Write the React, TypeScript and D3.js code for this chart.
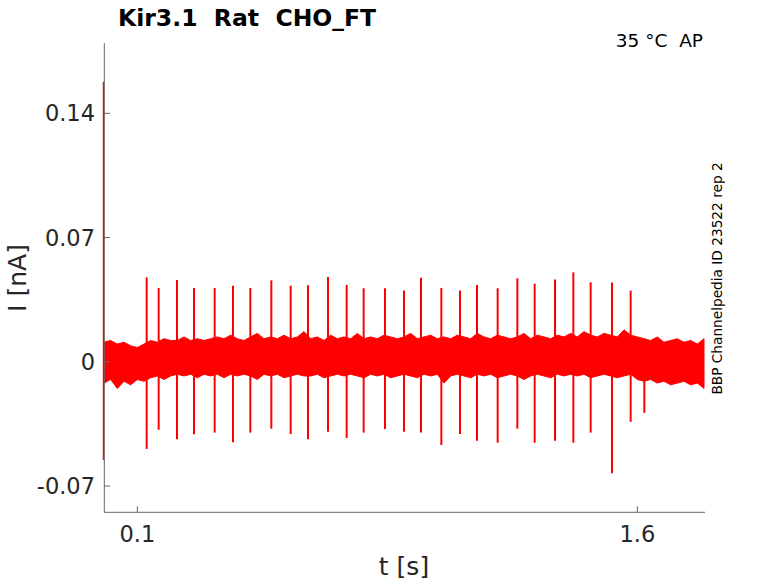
import * as d3 from 'd3';

// Current trace, read from the recording (nA vs s)
const TRANSIENT = { t: 0, hi: 0.1577, lo: -0.0553 };

const spikeTimes = [
    0.128, 0.164, 0.219, 0.270, 0.332, 0.387, 0.439, 0.502, 0.560, 0.612,
    0.672, 0.728, 0.779, 0.843, 0.900, 0.951, 1.012, 1.068, 1.119, 1.181,
    1.240, 1.292, 1.353, 1.408, 1.460, 1.524, 1.580, 1.621,
];
const spikeHi = [
    0.0476, 0.0416, 0.0461, 0.0416, 0.0416, 0.0429, 0.0416, 0.0459, 0.0429, 0.0431,
    0.0478, 0.0433, 0.0414, 0.0414, 0.0401, 0.0474, 0.0416, 0.0401, 0.0433, 0.0414,
    0.0470, 0.0440, 0.0463, 0.0504, 0.0448, 0.0446, 0.0401, 0.0120,
];
const spikeLo = [
    -0.0491, -0.0383, -0.0437, -0.0408, -0.0399, -0.0454, -0.0399, -0.0377, -0.0407, -0.0437,
    -0.0394, -0.0429, -0.0399, -0.0379, -0.0394, -0.0399, -0.0469, -0.0407, -0.0445, -0.0456,
    -0.0377, -0.0456, -0.0445, -0.0456, -0.0399, -0.0628, -0.0338, -0.0287,
];

// Noise envelope, one pair every 0.02 s from 0 to 1.8 s
const noiseStep = 0.02;
const noiseHi = [
    0.011, 0.012, 0.010, 0.011, 0.009, 0.008,
    0.010, 0.012, 0.011, 0.013, 0.012,
    0.012, 0.014, 0.012, 0.013, 0.012,
    0.013, 0.014, 0.013, 0.015, 0.013,
    0.012, 0.014, 0.016, 0.013, 0.014,
    0.013, 0.015, 0.013, 0.014, 0.017,
    0.013, 0.014, 0.012, 0.015, 0.013,
    0.014, 0.013, 0.016, 0.013, 0.014,
    0.013, 0.015, 0.014, 0.013, 0.014,
    0.016, 0.013, 0.014, 0.015, 0.013,
    0.014, 0.013, 0.015, 0.014, 0.013,
    0.016, 0.014, 0.013, 0.015, 0.014,
    0.013, 0.014, 0.016, 0.013, 0.015,
    0.014, 0.013, 0.015, 0.014, 0.016,
    0.014, 0.017, 0.015, 0.014, 0.016,
    0.015, 0.014, 0.018, 0.015, 0.014,
    0.013, 0.012, 0.014, 0.011, 0.012,
    0.013, 0.011, 0.012, 0.010, 0.013,
];
const noiseLo = [
    -0.012, -0.010, -0.015, -0.011, -0.013, -0.010,
    -0.011, -0.009, -0.008, -0.010, -0.008,
    -0.007, -0.008, -0.007, -0.009, -0.007,
    -0.008, -0.007, -0.009, -0.007, -0.008,
    -0.007, -0.008, -0.010, -0.007, -0.008,
    -0.007, -0.009, -0.008, -0.007, -0.008,
    -0.008, -0.007, -0.009, -0.008, -0.007,
    -0.008, -0.007, -0.008, -0.009, -0.007,
    -0.008, -0.007, -0.009, -0.008, -0.007,
    -0.008, -0.009, -0.007, -0.008, -0.007,
    -0.012, -0.008, -0.007, -0.008, -0.009,
    -0.007, -0.008, -0.007, -0.009, -0.008,
    -0.007, -0.008, -0.010, -0.008, -0.007,
    -0.008, -0.009, -0.007, -0.008, -0.007,
    -0.008, -0.007, -0.009, -0.008, -0.007,
    -0.008, -0.009, -0.008, -0.007, -0.010,
    -0.011, -0.010, -0.012, -0.011, -0.013,
    -0.012, -0.011, -0.013, -0.012, -0.015,
];

const xTicks = [0.1, 1.6];
const yTicks = [-0.07, 0, 0.07, 0.14];

const TITLE = 'Kir3.1  Rat  CHO_FT';
const CONDITION = '35 °C  AP';
const SOURCE = 'BBP Channelpedia ID 23522 rep 2';

const W = 778;
const H = 583;
const RED = '#ff0000';
const AXIS = '#666666';
const TEXT = '#262626';
const FONT = '"DejaVu Sans", sans-serif';

export default function App() {
    const left = 104;
    const right = 705;
    const top = 43;
    const bottom = 512.3;

    const x = d3.scaleLinear().domain([0, 1.8]).range([104, 704]);
    const y = d3.scaleLinear().domain([-0.0848, 0.1796]).range([bottom, top]);

    const noise = noiseHi.map((h, i) => ({ t: i * noiseStep, hi: h, lo: noiseLo[i] }));
    const area = d3.area<{ t: number; hi: number; lo: number }>()
        .x(d => x(d.t))
        .y0(d => y(d.lo))
        .y1(d => y(d.hi));

    const fmt = (v: number) => (v === 0 ? '0' : String(v));

    return (
        <svg width={W} height={H} viewBox={`0 0 ${W} ${H}`}
            style={{ position: 'absolute', left: 0, top: 0, background: '#fff' }}
            fontFamily={FONT}>
            {/* noise band */}
            <path d={area(noise) || ''} fill={RED} stroke={RED} strokeWidth={1} strokeLinejoin="round" />

            {/* spikes */}
            {spikeTimes.map((t, i) => (
                <line key={i} x1={x(t)} x2={x(t)} y1={y(spikeHi[i])} y2={y(spikeLo[i])}
                    stroke={RED} strokeWidth={2} />
            ))}

            {/* onset transient */}
            <line x1={x(TRANSIENT.t) - 0.5} x2={x(TRANSIENT.t) - 0.5}
                y1={y(TRANSIENT.hi)} y2={y(TRANSIENT.lo)} stroke={RED} strokeWidth={1.5} />

            {/* axes */}
            <g stroke={AXIS} strokeWidth={1} fill="none">
                <line x1={left + 0.3} x2={left + 0.3} y1={top} y2={bottom} />
                <line x1={left} x2={right} y1={bottom} y2={bottom} />
                {yTicks.map(v => (
                    <line key={v} x1={left} x2={left + 6} y1={y(v)} y2={y(v)} />
                ))}
                {xTicks.map(v => (
                    <line key={v} x1={x(v)} x2={x(v)} y1={bottom} y2={bottom - 6} />
                ))}
            </g>

            <g fill={TEXT} fontSize={22.5}>
                {yTicks.map(v => (
                    <text key={v} x={95} y={y(v)} textAnchor="end" dominantBaseline="central">{fmt(v)}</text>
                ))}
                {xTicks.map(v => (
                    <text key={v} x={x(v)} y={542} textAnchor="middle">{fmt(v)}</text>
                ))}
            </g>

            <text x={404} y={575} textAnchor="middle" fontSize={25} fill={TEXT}>t [s]</text>
            <text transform="translate(26, 278) rotate(-90)" textAnchor="middle" fontSize={25} fill={TEXT}>I [nA]</text>

            <text x={118} y={26} fontSize={23.5} fontWeight="bold" fill="#000" style={{ whiteSpace: 'pre' }}>{TITLE}</text>
            <text x={703} y={47} textAnchor="end" fontSize={18.5} fill="#000" style={{ whiteSpace: 'pre' }}>{CONDITION}</text>
            <text transform="translate(722, 278.5) rotate(-90)" textAnchor="middle" fontSize={13.7} fill="#000">{SOURCE}</text>
        </svg>
    );
}
